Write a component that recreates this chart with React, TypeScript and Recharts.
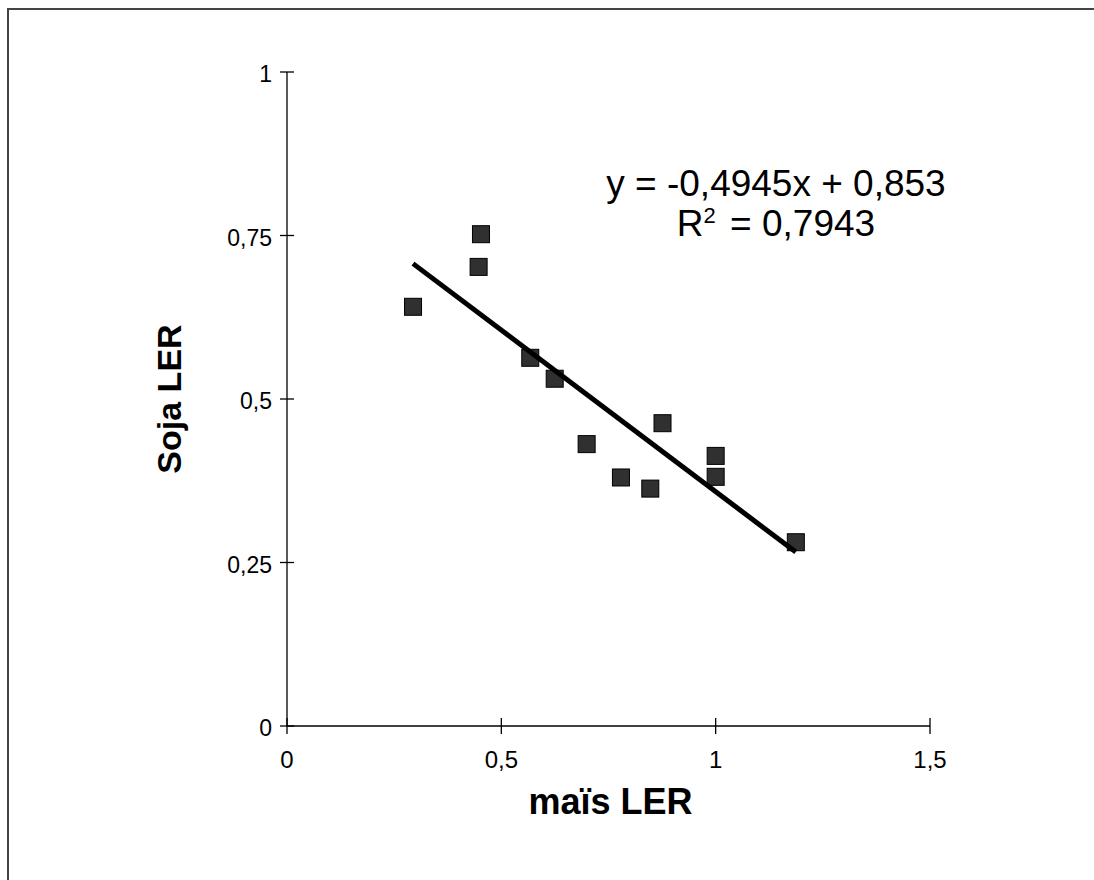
import React from 'react';
import { ScatterChart, Scatter, XAxis, YAxis, Label } from 'recharts';

const maisLER = [0.294, 0.447, 0.4525, 0.5675, 0.6245, 0.699, 0.779, 0.8475, 0.876, 1.0, 1.0, 1.187];
const sojaLER = [0.641, 0.702, 0.752, 0.563, 0.531, 0.431, 0.38, 0.363, 0.463, 0.413, 0.381, 0.281];
const trendX = [0.294, 1.187];
const trendY = [0.707, 0.266];
const xTicks = [0, 0.5, 1, 1.5];
const yTicks = [0, 0.25, 0.5, 0.75, 1];
const xTitle = 'maïs LER';
const yTitle = 'Soja LER';
const equationLine = 'y = -0,4945x + 0,853';
const r2Value = '0,7943';

const points = maisLER.map((x, i) => ({ x, y: sojaLER[i] }));
const trend = trendX.map((x, i) => ({ x, y: trendY[i] }));

const FONT = '"Liberation Sans", Arial, sans-serif';
const fmt = (v: number) => String(v).replace('.', ',');

const YTick = (props: any) => {
  const { x, y, payload } = props;
  const ax = x + 15;
  return (
    <g>
      <line x1={ax - 7} x2={ax + 7} y1={y} y2={y} stroke="#000" strokeWidth={1.3} />
      <text x={x} y={y + 2} dy="0.355em" textAnchor="end" fontFamily={FONT} fontSize={23} fill="#000">
        {fmt(payload.value)}
      </text>
    </g>
  );
};

const XTick = (props: any) => {
  const { x, y, payload } = props;
  const ay = y - 5 - 20;
  return (
    <g>
      <line x1={x} x2={x} y1={ay - 8} y2={ay + 8} stroke="#000" strokeWidth={1.3} />
      <text x={x} y={y} dy="0.71em" textAnchor="middle" fontFamily={FONT} fontSize={24} fill="#000">
        {fmt(payload.value)}
      </text>
    </g>
  );
};

const SquareMarker = (props: any) => {
  const { cx, cy } = props;
  if (cx == null || cy == null) return null;
  return <rect x={cx - 8.5} y={cy - 8.5} width={17} height={17} fill="#303030" stroke="#000" strokeWidth={1} />;
};

const NoMarker = () => null;

export default function App() {
  return (
    <div style={{ position: 'absolute', left: 0, top: 0, width: 1094, height: 880, background: '#fff', overflow: 'hidden' }}>
      <div style={{ position: 'absolute', left: 7, top: 8, width: 1100, height: 2, background: '#444' }} />
      <div style={{ position: 'absolute', left: 7, top: 8, width: 2, height: 900, background: '#444' }} />
      <div style={{ position: 'absolute', left: 0, top: 0 }}>
        <ScatterChart
          width={1094}
          height={880}
          margin={{ top: 72, right: 164, bottom: 94, left: 227 }}
          accessibilityLayer={false}
        >
          <XAxis
            type="number"
            dataKey="x"
            domain={[0, 1.5]}
            ticks={xTicks}
            height={60}
            tickSize={5}
            tickMargin={20}
            tickLine={false}
            axisLine={{ stroke: '#000', strokeWidth: 1.3 }}
            tick={<XTick />}
            interval={0}
            allowDataOverflow
          >
            <Label
              content={(p: any) => {
                const vb = p.viewBox;
                return (
                  <text
                    x={vb.x + vb.width / 2 + 2}
                    y={vb.y + 88}
                    textAnchor="middle"
                    fontFamily={FONT}
                    fontWeight="bold"
                    fontSize={36}
                    fill="#000"
                  >
                    {xTitle}
                  </text>
                );
              }}
            />
          </XAxis>
          <YAxis
            type="number"
            dataKey="y"
            domain={[0, 1]}
            ticks={yTicks}
            width={60}
            tickSize={5}
            tickMargin={10}
            tickLine={false}
            axisLine={{ stroke: '#000', strokeWidth: 1.3 }}
            tick={<YTick />}
            interval={0}
            allowDataOverflow
          >
            <Label
              content={(p: any) => {
                const vb = p.viewBox;
                const cx = vb.x + vb.width - 118;
                const cy = vb.y + vb.height / 2;
                return (
                  <text
                    x={cx}
                    y={cy}
                    textAnchor="middle"
                    dominantBaseline="central"
                    transform={`rotate(-90 ${cx} ${cy})`}
                    fontFamily={FONT}
                    fontWeight="bold"
                    fontSize={34}
                    fill="#000"
                  >
                    {yTitle}
                  </text>
                );
              }}
            />
          </YAxis>
          <Scatter data={points} shape={<SquareMarker />} isAnimationActive={false} />
          <Scatter
            data={trend}
            line={{ stroke: '#000', strokeWidth: 5 }}
            shape={<NoMarker />}
            isAnimationActive={false}
          />
        </ScatterChart>
      </div>
      <div
        style={{
          position: 'absolute',
          left: 576,
          top: 164,
          width: 400,
          textAlign: 'center',
          fontFamily: FONT,
          fontSize: 37,
          lineHeight: '40px',
          color: '#000',
        }}
      >
        <div>{equationLine}</div>
        <div>
          R<sup style={{ fontSize: 22, verticalAlign: 'top', position: 'relative', top: -8, marginRight: 4 }}>2</sup> = {r2Value}
        </div>
      </div>
    </div>
  );
}
